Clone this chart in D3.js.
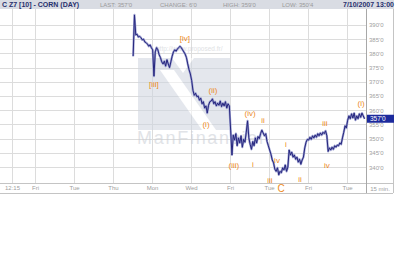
<!DOCTYPE html>
<html>
<head>
<meta charset="utf-8">
<title>C Z7 corn</title>
<style>
body { margin: 0; background: #fff; }
text { font-family: "Liberation Sans", Arial, sans-serif; }
</style>
</head>
<body>
<script src="https://cdn.jsdelivr.net/npm/d3@7"></script>
<script>
// trading-day ticks (0 = Fri Jun 15)
var tickDays = [-1.18, 0, 2, 4, 6, 8, 10, 12, 14, 16];
var tickLabels = ["12:15", "Fri", "Tue", "Thu", "Mon", "Wed", "Fri", "Tue", "Fri", "Tue"];
var priceTicks = [340, 345, 350, 355, 360, 365, 370, 375, 380, 385, 390];

// 15-min closes, one list per session
var sessionDay = [5, 6, 7, 8, 9, 10, 11, 12, 13, 14, 15, 16];
var sessionCloses = [
    [379, 393.5, 386.5, 386.75, 385.75, 386, 385.5, 384.75, 385, 384, 383.75, 383.25, 382.5, 383, 382],
    [381.25, 372, 380.5, 382, 381.25, 379.5, 378.5, 377, 376.25, 377.25, 375.5, 377.75, 376.25, 375, 377],
    [379, 380.5, 381.25, 380.75, 381.5, 382, 382.5, 382, 381.25, 380.5, 379.75, 378.5, 376.25, 374.25, 372.75],
    [370.5, 367, 365.25, 366, 364.75, 365, 363.5, 364.25, 362.25, 363, 360.75, 361.5, 359, 361.75, 363],
    [363.25, 364, 362.25, 363, 361.5, 362.5, 361.75, 363.25, 361.25, 362.5, 361.5, 363, 360.75, 362.25, 361.5],
    [353, 344.25, 351.25, 349.5, 351.75, 347.5, 350.25, 348.5, 351, 347, 349.75, 348.75, 352.25, 356.25, 350.25],
    [348, 346.25, 349, 347.5, 350.25, 348.5, 350.75, 350, 351.75, 353, 352, 351, 351.75, 349, 347.5],
    [346, 344.5, 342.5, 341.5, 339.25, 338.5, 339.75, 337.25, 338.5, 338, 339.75, 339, 340.75, 338.5, 340],
    [346, 344.25, 345.25, 343.5, 344.25, 342.75, 343.5, 341.75, 342.75, 341, 342.5, 343.5, 346.75, 348.75, 349.75],
    [349.5, 350.5, 349.75, 351, 350.25, 351.25, 350.5, 351.75, 351, 352, 351.25, 352.25, 351.75, 352.75, 351],
    [345.5, 346.75, 346, 347, 346.25, 347.5, 347, 347.75, 347.5, 348.5, 348, 350.25, 352.25, 354.5, 353.75],
    [356.5, 358, 357, 358.75, 357.25, 359, 356.5, 358, 357, 358.75, 357.5, 359, 358, 357]
];

// Elliott wave labels (day, price)
var waveText = ["[iv]", "[iii]", "(ii)", "(i)", "(iv)", "ii", "(iii)", "i", "iv", "iii", "i", "ii", "iii", "iv", "(i)"];
var waveDay = [7.69, 6.10, 9.13, 8.77, 11.03, 11.69, 10.2, 11.18, 12.41, 12.05, 12.87, 13.59, 14.87, 14.97, 16.72];
var wavePrice = [385.4, 369.2, 367.1, 355.1, 359, 356.5, 340.7, 341, 342.5, 335.4, 348.1, 335.8, 355.5, 340.7, 362.5];

var lastPrice = 357;

var W = 400, H = 260;
var plotTop = 9, plotBottom = 183, plotRight = 366, frameRight = 393, frameBottom = 193;

var svg = d3.select("body").append("svg")
    .attr("width", W)
    .attr("height", H);

var x = d3.scaleLinear().domain([-1.795, 16.974]).range([0, plotRight]);
var y = d3.scaleLinear().domain([334.4, 395.6]).range([plotBottom, plotTop]);

function fmt(p) {
    var whole = Math.floor(p);
    return whole + "'" + Math.round((p - whole) * 8);
}

// header bar
svg.append("rect").attr("x", 0).attr("y", 0).attr("width", frameRight + 1).attr("height", plotTop)
    .attr("fill", "#d9dce3");
svg.append("text").attr("x", 2).attr("y", 7).attr("font-size", 7).attr("font-weight", "bold")
    .attr("fill", "#27306e").text("C Z7 [10] - CORN (DAY)");
var hdr = [["LAST: 357'0", 100], ["CHANGE: 6'0", 160], ["HIGH: 359'0", 223], ["LOW: 350'4", 282]];
hdr.forEach(function(h) {
    svg.append("text").attr("x", h[1]).attr("y", 7).attr("font-size", 6)
        .attr("fill", "#9a9a9a").text(h[0]);
});
svg.append("text").attr("x", 394).attr("y", 7).attr("text-anchor", "end").attr("font-size", 7)
    .attr("font-weight", "bold").attr("fill", "#27306e").text("7/10/2007 13:00");

// grid
svg.append("g").selectAll("line").data(priceTicks).enter().append("line")
    .attr("x1", 0).attr("x2", plotRight)
    .attr("y1", function(d) { return Math.round(y(d)) + 0.5; })
    .attr("y2", function(d) { return Math.round(y(d)) + 0.5; })
    .attr("stroke", "#dcdcdc");
svg.append("g").selectAll("line").data(tickDays).enter().append("line")
    .attr("x1", function(d) { return Math.round(x(d)) + 0.5; })
    .attr("x2", function(d) { return Math.round(x(d)) + 0.5; })
    .attr("y1", plotTop).attr("y2", plotBottom)
    .attr("stroke", "#dcdcdc");

// watermark
var wm = svg.append("g").attr("opacity", 0.55);
wm.append("rect").attr("x", 138).attr("y", 58).attr("width", 92).attr("height", 72).attr("fill", "#cfd5e0");
wm.append("polygon").attr("points", "160,70 174,70 216,130 202,130").attr("fill", "#fff");
wm.append("polygon").attr("points", "172,58 194,58 183,73").attr("fill", "#fff");
wm.append("text").attr("x", 137).attr("y", 144).attr("font-size", 18).attr("textLength", 126)
    .attr("fill", "#c9cdd5").text("ManFinancial");
wm.append("text").attr("x", 156).attr("y", 51).attr("font-size", 6.5)
    .attr("fill", "#c6c9ce").text("http://www.proposed.fr/");

// price line
var pts = [];
sessionCloses.forEach(function(list, k) {
    list.forEach(function(c, i) {
        pts.push({ t: sessionDay[k] + (i + 0.5) / 15, p: c });
    });
});
var line = d3.line().x(function(d) { return x(d.t); }).y(function(d) { return y(d.p); });
svg.append("path").attr("d", line(pts)).attr("fill", "none")
    .attr("stroke", "#9ca0d0").attr("stroke-width", 2.2).attr("stroke-linejoin", "round");
svg.append("path").attr("d", line(pts)).attr("fill", "none")
    .attr("stroke", "#26267e").attr("stroke-width", 1);

// wave labels
svg.append("g").selectAll("text").data(waveText).enter().append("text")
    .attr("x", function(d, i) { return x(waveDay[i]); })
    .attr("y", function(d, i) { return y(wavePrice[i]) + 3; })
    .attr("text-anchor", "middle").attr("font-size", 8)
    .attr("fill", "#ec8a1e").text(function(d) { return d; });

// frame and axes
svg.append("line").attr("x1", 0).attr("x2", frameRight).attr("y1", plotBottom + 0.5).attr("y2", plotBottom + 0.5)
    .attr("stroke", "#c4c4c4");
svg.append("line").attr("x1", 0).attr("x2", frameRight).attr("y1", frameBottom + 0.5).attr("y2", frameBottom + 0.5)
    .attr("stroke", "#c4c4c4");
svg.append("line").attr("x1", plotRight + 0.5).attr("x2", plotRight + 0.5).attr("y1", plotTop).attr("y2", frameBottom)
    .attr("stroke", "#a8a8a8");
svg.append("line").attr("x1", frameRight + 0.5).attr("x2", frameRight + 0.5).attr("y1", plotTop).attr("y2", frameBottom)
    .attr("stroke", "#c4c4c4");

var yAxis = d3.axisRight(y).tickValues(priceTicks).tickSize(0).tickPadding(3).tickFormat(fmt);
var ya = svg.append("g").attr("transform", "translate(" + plotRight + ",0)").call(yAxis);
ya.select(".domain").remove();
ya.selectAll("text").attr("font-size", 6).attr("fill", "#a0a0a0").attr("font-family", null);

var xAxis = d3.axisBottom(x).tickValues(tickDays).tickSize(0).tickPadding(3)
    .tickFormat(function(d, i) { return tickLabels[i]; });
var xa = svg.append("g").attr("transform", "translate(0," + plotBottom + ")").call(xAxis);
xa.select(".domain").remove();
xa.selectAll("text").attr("font-size", 6).attr("fill", "#a0a0a0").attr("font-family", null);
svg.append("text").attr("x", 380).attr("y", 191).attr("text-anchor", "middle").attr("font-size", 6)
    .attr("fill", "#a0a0a0").text("15 min.");

// big C under the low
svg.append("text").attr("x", x(12.62)).attr("y", 192).attr("text-anchor", "middle").attr("font-size", 10)
    .attr("fill", "#ec8a1e").text("C");

// last price marker
svg.append("rect").attr("x", plotRight + 1).attr("y", y(lastPrice) - 4).attr("width", 27).attr("height", 8)
    .attr("fill", "#1c2a9c");
svg.append("text").attr("x", plotRight + 4).attr("y", y(lastPrice) + 2.5).attr("font-size", 6.5)
    .attr("fill", "#fff").text(fmt(lastPrice));
</script>
</body>
</html>
